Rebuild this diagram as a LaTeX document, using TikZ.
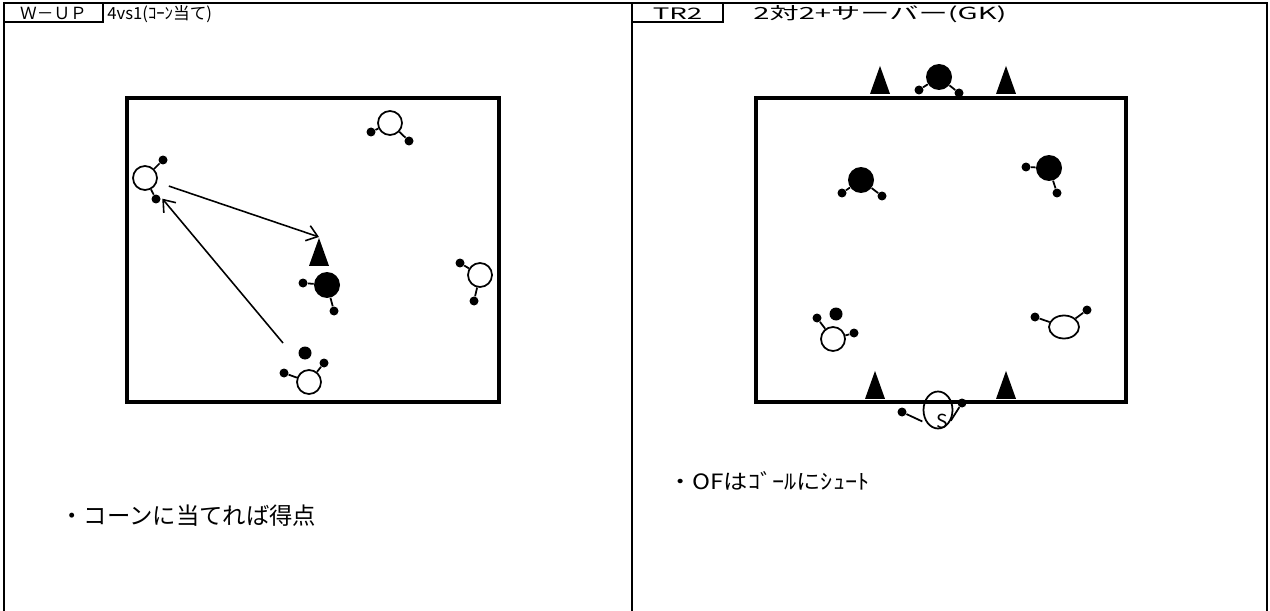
\documentclass[tikz,border=0pt]{standalone}
\usepackage{fontspec}
\setmainfont{Noto Sans CJK JP}
\newfontfamily\widejp[FakeStretch=1.75]{Noto Sans CJK JP}
\newfontfamily\notejp[FakeStretch=1.15]{Noto Sans CJK JP}
\usetikzlibrary{arrows.meta, shapes.geometric}

\begin{document}
\begin{tikzpicture}[x=0.02cm, y=-0.02cm, >={Straight Barb[length=6pt,width=9pt]},
    frame/.style={line width=1.6pt},
    pitch/.style={line width=2pt},
    headbox/.style={draw, line width=1.6pt, minimum height=0.38cm, inner sep=0pt, text height=0.3cm, text depth=0.02cm},
    headtext/.style={anchor=west, inner sep=0pt, text height=0.3cm, text depth=0.02cm},
    note/.style={anchor=west, inner sep=0pt},
    wplayer/.style={circle, draw, line width=1pt, inner sep=0pt, minimum size=0.48cm},
    bplayer/.style={circle, fill=black, inner sep=0pt, minimum size=0.52cm},
    hand/.style={circle, fill=black, inner sep=0pt, minimum size=0.18cm},
    ball/.style={circle, fill=black, inner sep=0pt, minimum size=0.26cm},
    cone/.style={isosceles triangle, isosceles triangle stretches, shape border rotate=90,
      fill=black, inner sep=0pt, minimum height=0.56cm, minimum width=0.4cm, anchor=apex},
    arm/.style={line width=1pt},
    pass/.style={->, line width=0.9pt}]
  \useasboundingbox (0,0) rectangle (1270,611);
  % sheet frame
  \draw[frame] (4,611) -- (4,3) -- (1267,3) -- (1267,611);
  \draw[frame] (632,3) -- (632,611);
  % headers
  \node[headbox, minimum width=1.98cm, font=\fontsize{9.5}{9.5}\selectfont] (wup) at (53.5,12.5) {Ｗ－ＵＰ};
  \node[headtext, font=\fontsize{9.5}{9.5}\selectfont] (wuptitle) at (107,12.5) {4vs1(ｺｰﾝ当て)};
  \node[headbox, minimum width=1.82cm, font=\widejp\fontsize{9}{9}\selectfont] (tr) at (677.5,12.5) {TR2};
  \node[headtext, font=\widejp\fontsize{9.5}{9.5}\selectfont] (trtitle) at (753,12.5) {2対2+サーバー(GK)};

  % ---- W-UP: 4vs1 ----
  \draw[pitch] (127,98) rectangle (499,402);
  \node[cone] (goalcone) at (319,237) {};
  % attackers
  \node[wplayer] (pA) at (145,178) {};
  \node[hand] (pAa) at (163,160) {}; \draw[arm] (pA) -- (pAa);
  \node[hand] (pAb) at (156,199) {}; \draw[arm] (pA) -- (pAb);
  \node[wplayer] (pC) at (390,123) {};
  \node[hand] (pCa) at (371,132) {}; \draw[arm] (pC) -- (pCa);
  \node[hand] (pCb) at (409,141) {}; \draw[arm] (pC) -- (pCb);
  \node[wplayer] (pD) at (480,275) {};
  \node[hand] (pDa) at (460,263) {}; \draw[arm] (pD) -- (pDa);
  \node[hand] (pDb) at (474,301) {}; \draw[arm] (pD) -- (pDb);
  \node[wplayer] (pE) at (309,382) {};
  \node[hand] (pEa) at (284,373) {}; \draw[arm] (pE) -- (pEa);
  \node[hand] (pEb) at (324,363) {}; \draw[arm] (pE) -- (pEb);
  \node[ball] (ballL) at (305,353) {};
  % defender
  \node[bplayer] (pB) at (327,285) {};
  \node[hand] (pBa) at (303,283) {}; \draw[arm] (pB) -- (pBa);
  \node[hand] (pBb) at (334,311) {}; \draw[arm] (pB) -- (pBb);
  % passes
  \coordinate (passstart) at (283,343);
  \draw[pass, shorten >=8pt] (passstart) -- (pA);
  \draw[pass, shorten <=7pt] (pA) -- (goalcone.apex);
  \node[note, font=\fontsize{13.3}{13.3}\selectfont] (noteL) at (60,516) {・コーンに当てれば得点};

  % ---- TR2: 2vs2 + server ----
  \draw[pitch] (756,98) rectangle (1126,402);
  \node[cone] (gtl) at (880,65) {};
  \node[cone] (gtr) at (1006,65) {};
  \node[cone] (gbl) at (875,370) {};
  \node[cone] (gbr) at (1006,370) {};
  % keeper and defenders
  \node[bplayer] (gk) at (939,77) {};
  \node[hand] (gka) at (919,90) {}; \draw[arm] (gk) -- (gka);
  \node[hand] (gkb) at (959,93) {}; \draw[arm] (gk) -- (gkb);
  \node[bplayer] (q1) at (861,180) {};
  \node[hand] (q1a) at (842,193) {}; \draw[arm] (q1) -- (q1a);
  \node[hand] (q1b) at (882,196) {}; \draw[arm] (q1) -- (q1b);
  \node[bplayer] (q2) at (1049,168) {};
  \node[hand] (q2a) at (1026,167) {}; \draw[arm] (q2) -- (q2a);
  \node[hand] (q2b) at (1057,193) {}; \draw[arm] (q2) -- (q2b);
  % attackers
  \node[wplayer] (q3) at (833,339) {};
  \node[hand] (q3a) at (817,318) {}; \draw[arm] (q3) -- (q3a);
  \node[hand] (q3b) at (854,333) {}; \draw[arm] (q3) -- (q3b);
  \node[ball] (ballR) at (836,314) {};
  \node[wplayer, ellipse, minimum width=0.6cm, minimum height=0.46cm] (q4) at (1064,327) {};
  \node[hand] (q4a) at (1035,317) {}; \draw[arm] (q4) -- (q4a);
  \node[hand] (q4b) at (1087,310) {}; \draw[arm] (q4) -- (q4b);
  % server
  \node[wplayer, ellipse, minimum width=0.58cm, minimum height=0.74cm] (srv) at (938,410) {};
  \node[inner sep=0pt, font=\fontsize{11}{11}\selectfont] (srvS) at (942,421) {S};
  \node[hand] (srva) at (902,412) {}; \draw[arm, shorten >=3pt] (srva) -- (srv.south west);
  \node[hand] (srvb) at (962,403) {}; \draw[arm, shorten >=2pt] (srvb) -- (srv.south east);
  \node[note, font=\notejp\fontsize{12}{12}\selectfont] (noteR) at (668,481) {・OFはｺﾞｰﾙにｼｭｰﾄ};
\end{tikzpicture}
\end{document}
